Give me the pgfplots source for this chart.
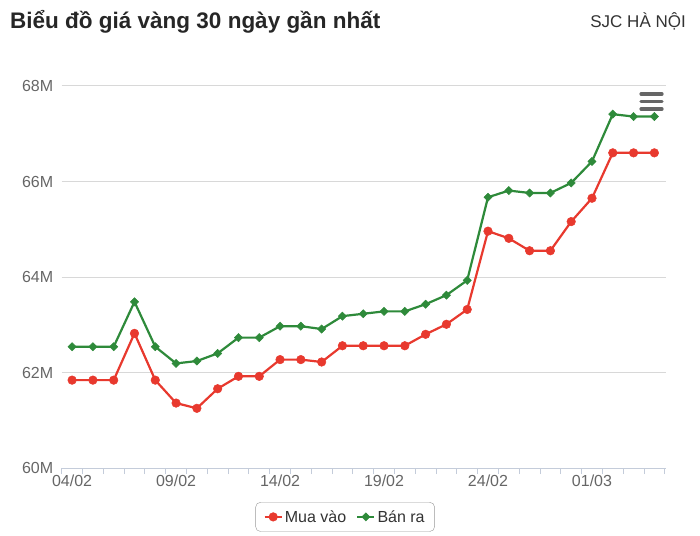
\documentclass[border=0pt]{standalone}
\usepackage{pgfplots}
\pgfplotsset{compat=1.18}
\usepackage{pgfplotstable}
\usepackage{fontspec}
\setmainfont{Liberation Sans}

\definecolor{muared}{HTML}{E8392E}
\definecolor{banxanh}{HTML}{2E8A3A}
\definecolor{lbl}{HTML}{666666}
\definecolor{gridc}{HTML}{D8D8D8}
\definecolor{axc}{HTML}{C4CCDA}

% gia vang SJC (trieu dong/luong), 04/02 -> 04/03
\pgfplotstableread{
i  mua    ban
0  61.84  62.54
1  61.84  62.54
2  61.84  62.54
3  62.82  63.48
4  61.84  62.54
5  61.36  62.19
6  61.25  62.24
7  61.66  62.40
8  61.92  62.73
9  61.92  62.73
10 62.27  62.97
11 62.27  62.97
12 62.22  62.91
13 62.56  63.18
14 62.56  63.23
15 62.56  63.28
16 62.56  63.28
17 62.80  63.43
18 63.01  63.62
19 63.32  63.93
20 64.96  65.67
21 64.81  65.81
22 64.55  65.76
23 64.55  65.76
24 65.16  65.97
25 65.65  66.42
26 66.60  67.41
27 66.60  67.36
28 66.60  67.36
}\giavang

\begin{document}
\begin{tikzpicture}
\path[use as bounding box] (0,0) rectangle (700pt,535pt);
\node[anchor=base west, inner sep=0pt, font=\bfseries\fontsize{22.5}{26}\selectfont, text=black!85] at (10pt,506pt) {Biểu đồ giá vàng 30 ngày gần nhất};
\node[anchor=base east, inner sep=0pt, font=\fontsize{17}{20}\selectfont, text=black!80] at (686pt,507pt) {SJC HÀ NỘI};
\begin{axis}[
  at={(61.7pt,67pt)}, anchor=south west,
  scale only axis, width=604.3pt, height=382pt,
  xmin=-0.5, xmax=28.56, ymin=60, ymax=68,
  axis x line*=bottom, axis y line*=left,
  y axis line style={draw=none},
  x axis line style={draw=axc, line width=1pt},
  ymajorgrids, grid style={draw=gridc, line width=1pt},
  ytick={60,62,...,68}, yticklabels={60M,62M,64M,66M,68M},
  xtick={0,5,...,25}, xticklabels={04/02,09/02,14/02,19/02,24/02,01/03},
  minor xtick={-0.5,0.5,...,28.5},
  tick align=outside,
  major tick length=0pt, minor tick length=6pt,
  xtick style={draw=axc, line width=0.8pt},
  ytick style={draw=none},
  ticklabel style={font=\fontsize{16}{19}\selectfont, text=lbl},
  yticklabel style={xshift=-5pt},
  xticklabel style={yshift=-3pt},
  legend style={at={(0.469,-0.128)}, anchor=center, legend columns=2,
    draw=black!40, rounded corners=5pt, font=\fontsize{16}{19}\selectfont,
    text=black!80, inner xsep=8pt, inner ysep=6pt,
    /tikz/every even column/.append style={column sep=8pt}},
]
\addplot[muared, line width=2.2pt, mark=*, mark size=4.3pt, mark options={line width=0.5pt}] table[x=i,y=mua]{\giavang};
\addlegendentry{Mua vào}
\addplot[banxanh, line width=2.2pt, mark=square*, mark size=2.9pt, mark options={rotate=45, line width=0.5pt}] table[x=i,y=ban]{\giavang};
\addlegendentry{Bán ra}
\end{axis}
\foreach \yy in {441,433.5,426}
  \draw[black!60, line width=3.2pt, line cap=round] (641pt,\yy pt) -- (662pt,\yy pt);
\end{tikzpicture}
\end{document}
